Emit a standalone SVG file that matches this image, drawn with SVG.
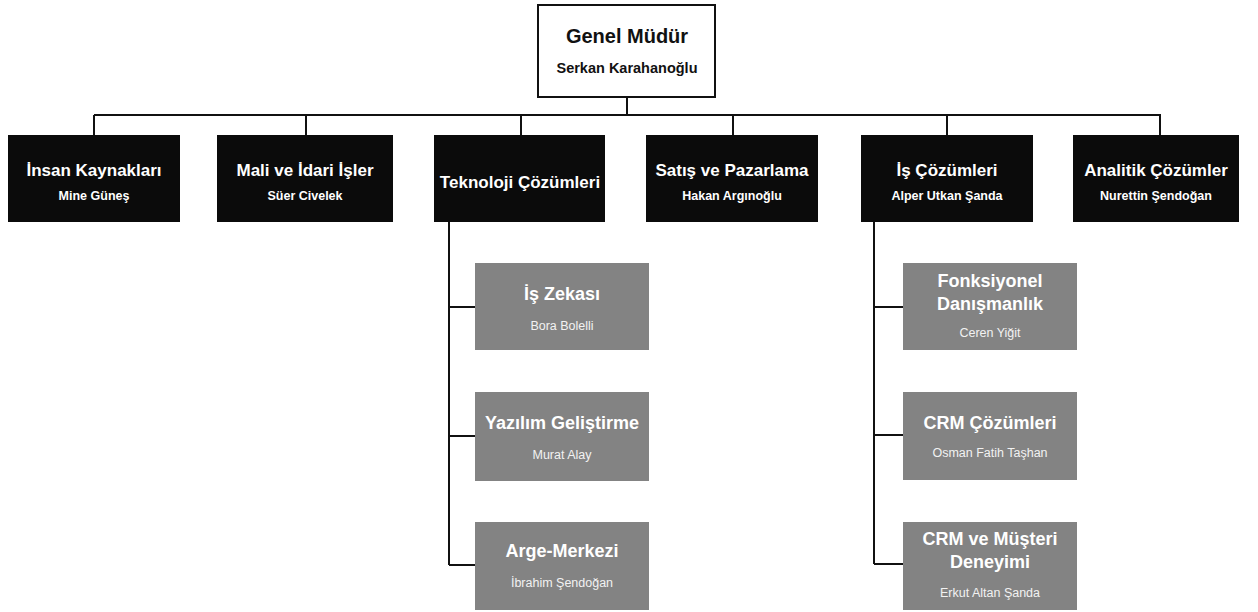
<svg xmlns="http://www.w3.org/2000/svg" width="1258" height="612" viewBox="0 0 1258 612">
<style>
text{font-family:"Liberation Sans",Arial,sans-serif;font-weight:bold;text-anchor:middle}
.top{fill:#fff;stroke:#111;stroke-width:2}
.dept{fill:#0b0b0b}
.sub{fill:#838383}
.t1{fill:#fff;font-size:17px}
.t2{fill:#fff;font-size:12.5px}
.k1{fill:#111;font-size:20px}
.k2{fill:#111;font-size:14.5px}
.s1{fill:#fff;font-size:18px}
.s2{fill:#f2f2f2;font-size:12.5px;font-weight:normal}
.conn{fill:none;stroke:#111;stroke-width:2}
</style>
<rect width="1258" height="612" fill="#fff"/>
<g id="connectors" class="conn">
<path d="M627 97V115M94 115H1161M94 115V135M306 115V135M521 115V135M733 115V135M947 115V135M1160 115V135"/>
<path d="M449 222V565M449 307H475M449 436H475M449 565H475"/>
<path d="M874 222V564M874 307H903M874 435H903M874 564H903"/>
</g>
<g id="genel-mudur"><rect class="top" x="538" y="5" width="177" height="92"/><text class="k1" x="627" y="43">Genel Müdür</text><text class="k2" x="627" y="73">Serkan Karahanoğlu</text></g>
<g id="insan-kaynaklari"><rect class="dept" x="8" y="135" width="172" height="87"/><text class="t1" x="94" y="176">İnsan Kaynakları</text><text class="t2" x="94" y="200">Mine Güneş</text></g>
<g id="mali-idari"><rect class="dept" x="217" y="135" width="176" height="87"/><text class="t1" x="305" y="176">Mali ve İdari İşler</text><text class="t2" x="305" y="200">Süer Civelek</text></g>
<g id="teknoloji"><rect class="dept" x="434" y="135" width="171" height="87"/><text class="t1" x="520" y="188">Teknoloji Çözümleri</text></g>
<g id="satis"><rect class="dept" x="646" y="135" width="172" height="87"/><text class="t1" x="732" y="176">Satış ve Pazarlama</text><text class="t2" x="732" y="200">Hakan Argınoğlu</text></g>
<g id="is-cozumleri"><rect class="dept" x="861" y="135" width="172" height="87"/><text class="t1" x="947" y="176">İş Çözümleri</text><text class="t2" x="947" y="200">Alper Utkan Şanda</text></g>
<g id="analitik"><rect class="dept" x="1073" y="135" width="166" height="87"/><text class="t1" x="1156" y="176">Analitik Çözümler</text><text class="t2" x="1156" y="200">Nurettin Şendoğan</text></g>
<g id="is-zekasi"><rect class="sub" x="475" y="263" width="174" height="87"/><text class="s1" x="562" y="300">İş Zekası</text><text class="s2" x="562" y="330">Bora Bolelli</text></g>
<g id="yazilim"><rect class="sub" x="475" y="392" width="174" height="89"/><text class="s1" x="562" y="429">Yazılım Geliştirme</text><text class="s2" x="562" y="459">Murat Alay</text></g>
<g id="arge"><rect class="sub" x="475" y="522" width="174" height="88"/><text class="s1" x="562" y="557">Arge-Merkezi</text><text class="s2" x="562" y="587">İbrahim Şendoğan</text></g>
<g id="fonksiyonel"><rect class="sub" x="903" y="263" width="174" height="87"/><text class="s1" x="990" y="287">Fonksiyonel</text><text class="s1" x="990" y="310">Danışmanlık</text><text class="s2" x="990" y="337">Ceren Yiğit</text></g>
<g id="crm-cozumleri"><rect class="sub" x="903" y="392" width="174" height="88"/><text class="s1" x="990" y="429">CRM Çözümleri</text><text class="s2" x="990" y="457">Osman Fatih Taşhan</text></g>
<g id="crm-musteri"><rect class="sub" x="903" y="522" width="174" height="88"/><text class="s1" x="990" y="545">CRM ve Müşteri</text><text class="s1" x="990" y="568">Deneyimi</text><text class="s2" x="990" y="597">Erkut Altan Şanda</text></g>
</svg>
